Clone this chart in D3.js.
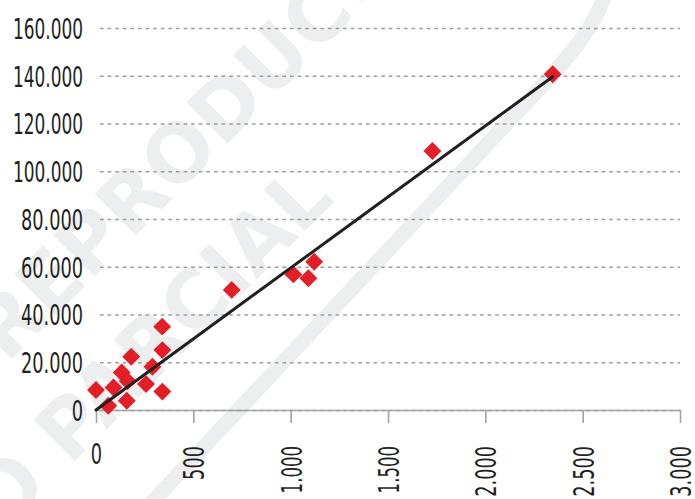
<!DOCTYPE html>
<html>
<head>
<meta charset="utf-8">
<script src="https://cdn.jsdelivr.net/npm/d3@7"></script>
<style>
  html, body { margin: 0; padding: 0; background: #fff; }
  svg { display: block; }
  .lbl { font-family: "DejaVu Sans Condensed", "Liberation Sans Narrow", sans-serif; font-size: 29px; fill: #231f20; }
</style>
</head>
<body>
<svg id="chart"></svg>
<script>
// values
let xVals = [0, 63, 90, 132, 181, 158, 163, 257, 290, 340, 341, 341, 697, 1014, 1091, 1121, 1728, 2346];
let yVals = [8400, 1800, 9400, 15700, 22300, 3850, 12100, 10900, 18100, 34900, 25100, 7700, 50300, 56800, 55200, 62100, 108500, 140600];
let trendX = [0, 2346];
let trendY = [0, 139600];
let xTicks = [0, 500, 1000, 1500, 2000, 2500, 3000];
let yTicks = [0, 20000, 40000, 60000, 80000, 100000, 120000, 140000, 160000];

let w = 695;
let h = 499;

let loc = d3.formatLocale({ decimal: ',', thousands: '.', grouping: [3], currency: ['', ''] });
let fmt = loc.format(',d');

let svg = d3.select('#chart')
    .attr('width', w)
    .attr('height', h);

// watermark in the background
let wm = svg.append('g')
    .attr('fill', '#eceef0')
    .attr('font-family', 'DejaVu Sans, sans-serif')
    .attr('font-weight', 'bold')
    .attr('font-size', 80);

wm.append('text')
    .attr('transform', 'translate(7, 364) rotate(-45)')
    .text('REPRODUCCIÓN');

wm.append('text')
    .attr('transform', 'translate(2, 534) rotate(-45)')
    .text('O PARCIAL');

wm.append('path')
    .attr('d', 'M140,515 L540,88 C575,50 595,25 605,-5')
    .attr('fill', 'none')
    .attr('stroke', '#eceef0')
    .attr('stroke-width', 15);

let x = d3.scaleLinear().domain([0, 3000]).range([96, 680]);
let y = d3.scaleLinear().domain([0, 160000]).range([410, 28]);

// y axis + dotted grid
let yAxis = d3.axisLeft(y)
    .tickValues(yTicks)
    .tickFormat(fmt)
    .tickSizeInner(-(680 - 96))
    .tickSizeOuter(0)
    .tickPadding(13);

let $yAxis = svg.append('g')
    .attr('transform', 'translate(96, 0)')
    .call(yAxis);

$yAxis.select('.domain').remove();
$yAxis.selectAll('line')
    .attr('stroke', '#9d9d9d')
    .attr('stroke-width', 1.4)
    .attr('stroke-dasharray', '3.6,4')
    .attr('stroke-dashoffset', -4);
$yAxis.selectAll('text')
    .attr('class', 'lbl')
    .attr('font-size', null)
    .attr('font-family', null)
    .attr('dy', '0.36em');

// x axis
let xAxis = d3.axisBottom(x)
    .tickValues(xTicks)
    .tickFormat(fmt)
    .tickSizeInner(13)
    .tickSizeOuter(0);

let $xAxis = svg.append('g')
    .attr('transform', 'translate(0, 410)')
    .call(xAxis);

$xAxis.select('.domain')
    .attr('stroke', '#a3a3a3')
    .attr('stroke-width', 1.6);
$xAxis.selectAll('line')
    .attr('stroke', '#a3a3a3')
    .attr('stroke-width', 1.6);
$xAxis.selectAll('text')
    .attr('class', 'lbl')
    .attr('font-size', null)
    .attr('font-family', null)
    .attr('y', null)
    .attr('dy', null)
    .each(function(d) {
        let t = d3.select(this);
        if (d === 0) {
            t.attr('text-anchor', 'middle')
                .attr('transform', 'translate(0, 53.5)');
        } else {
            t.attr('text-anchor', 'end')
                .attr('dy', '0.36em')
                .attr('transform', 'translate(0, 36) rotate(-90)');
        }
    });

// squeeze the labels to look like the condensed face
function labelWidth(s) {
    let wd = 0;
    for (let ch of s) {
        if (ch === '.') wd += 5.5;
        else if (ch === '1') wd += 8;
        else wd += 11.3;
    }
    return wd;
}

svg.selectAll('.lbl').each(function() {
    d3.select(this)
        .attr('textLength', labelWidth(this.textContent))
        .attr('lengthAdjust', 'spacingAndGlyphs');
});

// points
let pts = xVals.map((v, i) => [v, yVals[i]]);

svg.append('g')
    .selectAll('path')
    .data(pts)
    .enter()
    .append('path')
    .attr('d', d3.symbol(d3.symbolSquare, 160))
    .attr('transform', d => `translate(${x(d[0])}, ${y(d[1])}) rotate(45)`)
    .attr('fill', '#e41e26');

// trend line
let line = d3.line()
    .x(d => x(d[0]))
    .y(d => y(d[1]));

svg.append('path')
    .datum(trendX.map((v, i) => [v, trendY[i]]))
    .attr('d', line)
    .attr('fill', 'none')
    .attr('stroke', '#231f20')
    .attr('stroke-width', 3)
    .attr('stroke-linecap', 'round');
</script>
</body>
</html>
